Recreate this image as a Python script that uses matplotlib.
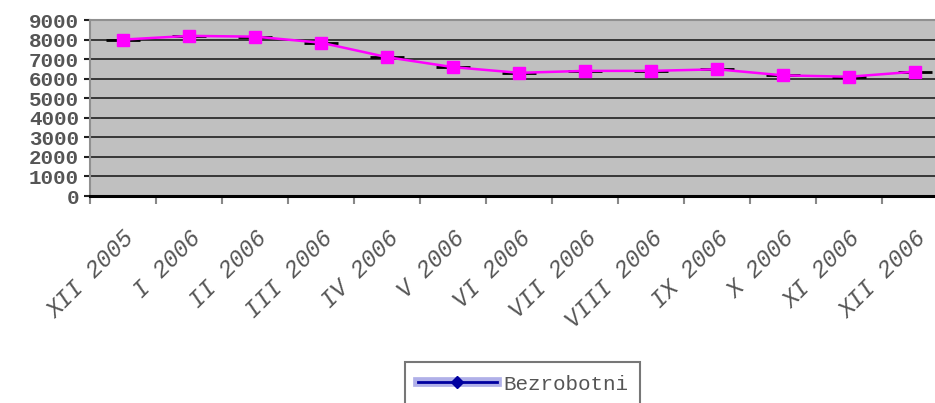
import matplotlib.pyplot as plt
import numpy as np

meseci = ["XII 2005", "I 2006", "II 2006", "III 2006", "IV 2006", "V 2006",
          "VI 2006", "VII 2006", "VIII 2006", "IX 2006", "X 2006", "XI 2006",
          "XII 2006"]
bezrobotni = [8000, 8190, 8150, 7840, 7100, 6590, 6300, 6400, 6400, 6480,
              6170, 6100, 6360]

fig = plt.figure(figsize=(9.35, 4.03), dpi=100)
ax = fig.add_axes([0.0963, 0.5136, 0.918, 0.4367])
ax.set_facecolor("#c0c0c0")

x = np.arange(len(meseci))
ax.plot(x, bezrobotni, color="black", marker="_", markersize=24,
        markeredgewidth=2, linestyle="none", zorder=3)
ax.plot(x, bezrobotni, color="#ff00ff", linewidth=1.8, marker="s",
        markersize=8, zorder=4)

ax.set_xlim(-0.5, len(meseci) - 0.5)
ax.set_ylim(0, 9000)
ax.set_yticks(range(0, 9001, 1000))
ax.yaxis.grid(True, color="#202020", linewidth=1.2)
ax.set_axisbelow(True)

ax.set_xticks(x)
ax.set_xticklabels(meseci, rotation=45, ha="right", rotation_mode="anchor",
                   family="Liberation Mono", style="italic", fontsize=17,
                   color="#555555")
ax.tick_params(axis="x", length=0, pad=22)
ax.set_xticks(np.arange(-0.5, len(meseci)), minor=True)
ax.tick_params(axis="x", which="minor", length=6, width=1.5, color="#888888")

for t in ax.get_yticklabels():
    t.set_family("Liberation Mono")
    t.set_fontsize(15)
    t.set_fontweight("bold")
    t.set_color("#555555")
ax.tick_params(axis="y", length=4, width=1.5, color="#202020", pad=4)

ax.spines["bottom"].set_linewidth(2.2)
ax.spines["bottom"].set_color("black")
ax.spines["left"].set_color("#909090")
ax.spines["left"].set_linewidth(1.5)
ax.spines["top"].set_color("#909090")
ax.spines["top"].set_linewidth(1.5)
ax.spines["right"].set_visible(False)

h1, = ax.plot([], [], color="#b0b0e8", linewidth=7)
h2, = ax.plot([], [], color="#0000a0", marker="D", markersize=6, linewidth=2)
leg = fig.legend([(h1, h2)], ["Bezrobotni"], loc="upper left",
                 bbox_to_anchor=(405 / 935, 1 - 362 / 403), borderaxespad=0,
                 frameon=True, fancybox=False, edgecolor="#555555",
                 prop={"family": "Liberation Mono", "size": 15},
                 borderpad=0.6, handlelength=3.8, handletextpad=0.3)
leg.get_frame().set_linewidth(1.5)
leg.get_texts()[0].set_color("#555555")

plt.savefig("out.png")
